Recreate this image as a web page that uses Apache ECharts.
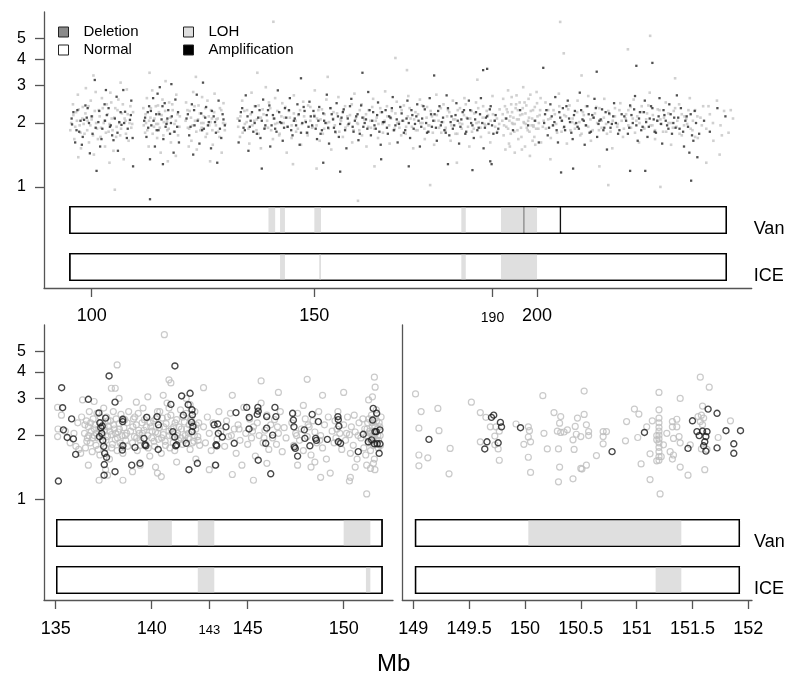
<!DOCTYPE html>
<html><head><meta charset="utf-8">
<script src="https://cdn.jsdelivr.net/npm/echarts@6/dist/echarts.min.js"></script>
<style>html,body{margin:0;padding:0;background:#fff}#c{width:800px;height:679px}</style>
</head><body><div id="c"></div>
<script>
// ---------- tick labels / categories ----------
const yTicks = [1, 2, 3, 4, 5];
const topXTicks = [100, 150, 190, 200];
const midXTicks = [135, 140, 143, 145, 150];
const zoomXTicks = [149, 149.5, 150, 150.5, 151, 151.5, 152];
const trackNames = ['Van', 'ICE'];
const legendNames = ['Deletion', 'Normal', 'LOH', 'Amplification'];

// ---------- copy-number tracks (Mb) ----------
const topSpan = [95.1, 242.5];
const topVanLOH = [[139.7,141.2],[142.3,143.4],[150.0,151.5],[183.0,184.0],[191.9,200.0]];
const topVanDel = [[196.9,197.2]];
const topVanAmp = [[205.1,205.4]];
const topIceLOH = [[142.3,143.4],[151.1,151.5],[183.0,184.0],[191.9,200.0]];
const midSpan = [135.05, 152.0];
const midVanLOH = [[139.8,141.05],[142.4,143.26],[150.0,151.39]];
const midIceLOH = [[142.4,143.26],[151.16,151.39]];
const zoomSpan = [149.02, 151.92];
const zoomVanLOH = [[150.03,151.40]];
const zoomIceLOH = [[151.17,151.40]];

// ---------- top panel: ratio per marker (Mb, ratio) ----------
const topGrey = [
[95.2,1.85],[95.8,2.45],[96.1,1.68],[96.5,2.25],[96.9,2.72],[97.3,1.95],[97.6,1.52],[98.0,2.38],[98.4,1.78],[98.7,2.92],[99.1,2.05],[99.4,1.62],[99.8,2.55],[100.1,2.15],[100.5,1.42],[100.9,2.80],[101.2,1.88],[101.6,2.30],[102.0,1.72],[102.3,2.62],[102.7,2.00],[103.0,1.55],[103.4,2.45],[103.8,1.82],[104.2,2.78],[104.5,2.10],[104.9,1.48],[105.3,2.35],[105.6,1.92],[106.0,2.58],[106.4,1.75],[106.8,2.22],[107.2,1.35],[107.6,2.05],[107.9,2.88],[108.3,1.65],[108.7,2.40],[109.1,1.98],[100.4,3.35],[104.0,1.30],[106.5,3.10],[97.0,1.38],[105.2,0.97],
[95.4,2.0],[95.9,2.18],[96.3,1.92],[96.7,2.05],[97.1,2.32],[97.5,1.8],[97.9,2.1],[98.2,1.98],[98.6,2.22],[99.0,1.85],[99.3,2.4],[99.7,1.95],[100.0,2.08],[100.3,1.75],[100.7,2.28],[101.0,2.0],[101.4,1.68],[101.8,2.15],[102.1,1.9],[102.5,2.35],[102.9,2.05],[103.2,1.8],[103.6,2.2],[104.0,1.98],[104.4,2.5],[104.7,1.85],[105.1,2.12],[105.5,1.72],[105.8,2.3],[106.2,2.0],[106.6,1.88],[107.0,2.45],[107.4,2.1],[107.7,1.78],[108.1,2.2],[108.5,2.0],[108.9,1.9],[109.3,2.25],
[111.6,2.35],[112.0,1.80],[112.4,2.62],[112.8,1.55],[113.2,2.12],[113.6,2.85],[114.0,1.92],[114.4,2.40],[114.7,1.70],[115.1,2.25],[115.5,1.45],[115.9,2.58],[116.2,2.02],[116.6,3.15],[117.0,1.85],[117.4,2.50],[117.8,1.62],[118.2,2.30],[118.6,1.98],[119.0,2.72],[119.4,1.75],[119.8,2.15],[113.0,3.45],[117.1,1.32],[114.9,1.98],[116.9,2.05],[118.9,1.40],[112.2,2.00],
[111.7,1.95],[112.1,2.2],[112.5,1.85],[112.9,2.05],[113.3,2.35],[113.7,1.78],[114.1,2.1],[114.5,1.98],[114.9,2.42],[115.3,1.9],[115.7,2.18],[116.1,1.75],[116.5,2.28],[116.9,2.0],[117.3,1.88],[117.7,2.12],[118.1,2.45],[118.5,1.82],[118.9,2.05],[119.3,2.2],[119.7,1.92],
[121.2,2.50],[121.6,1.90],[122.0,2.28],[122.4,1.65],[122.8,2.80],[123.2,2.05],[123.6,1.50],[124.0,2.42],[124.4,1.85],[124.8,2.65],[125.2,2.15],[125.6,1.72],[126.0,2.55],[126.4,1.95],[126.8,2.30],[127.2,1.58],[127.6,2.75],[128.0,2.08],[128.4,1.82],[128.8,2.35],[129.2,1.45],[129.6,2.48],[130.0,1.98],[123.4,3.30],[126.6,1.32],[124.6,2.00],[127.0,2.10],[121.8,1.55],
[121.1,2.05],[121.5,2.3],[121.9,1.88],[122.3,2.12],[122.7,1.95],[123.1,2.4],[123.5,1.82],[123.9,2.08],[124.3,2.22],[124.7,1.9],[125.1,2.0],[125.5,2.35],[125.9,1.78],[126.3,2.15],[126.7,2.02],[127.1,1.85],[127.5,2.25],[127.9,1.95],[128.3,2.1],[128.7,1.72],[129.1,2.3],[129.5,2.0],[129.9,1.85],
[132.8,2.10],[133.3,1.72],[133.8,2.55],[134.4,1.98],[134.9,2.30],[135.4,1.60],[135.9,2.78],[136.5,2.05],[137.0,1.85],[137.5,2.42],[138.0,1.52],[138.6,2.20],[139.1,2.95],[139.6,1.90],[140.1,2.35],[140.7,1.68],[141.2,2.62],[141.7,2.00],[142.2,1.78],[142.8,2.48],[143.3,2.12],[143.8,1.45],[144.3,2.28],[144.9,1.95],[145.4,2.70],[145.9,1.82],[146.4,2.18],[147.0,1.58],[147.5,2.52],[148.0,2.05],[148.5,1.75],[149.1,2.38],[149.6,1.92],[150.1,2.85],[150.6,2.10],[151.2,1.65],[151.7,2.32],[152.2,1.88],[152.7,2.58],[153.3,2.02],[153.8,1.50],[154.3,2.25],[154.8,1.80],[155.4,2.65],[155.9,2.08],[156.4,1.72],[156.9,2.40],[157.5,1.95],[158.0,2.18],[158.5,1.62],[159.0,2.75],[159.6,2.00],[160.1,1.85],[160.6,2.45],[161.1,2.12],[161.7,1.55],[162.2,2.30],[162.7,1.90],[163.2,2.60],[163.8,2.05],[164.3,1.70],[164.8,2.35],[165.3,1.98],[165.9,2.82],[166.4,2.15],[166.9,1.60],[167.4,2.28],[168.0,1.88],[168.5,2.52],[169.0,2.02],[169.5,1.75],[170.1,2.42],[170.6,1.92],[171.1,2.68],[171.6,2.10],[172.2,1.52],[172.7,2.25],[173.2,1.85],[173.7,2.58],[174.3,2.00],[174.8,1.68],[175.3,2.38],[175.8,1.95],[176.4,2.15],[176.9,1.58],[177.4,2.72],[177.9,2.05],[178.5,1.80],[179.0,2.45],[179.5,1.90],[180.0,2.30],[180.6,1.65],[181.1,2.55],[181.6,2.08],[182.1,1.78],[182.7,2.35],[183.2,1.98],[183.7,2.62],[184.2,2.12],[184.8,1.55],[185.3,2.28],[185.8,1.88],[186.3,2.50],[186.9,2.02],[187.4,1.72],[187.9,2.40],[188.4,1.95],[189.0,2.18],[189.5,1.62],[190.0,2.68],[190.5,2.05],[191.1,1.82],[191.6,2.32],
[132.9,1.92],[133.4,2.15],[133.9,1.8],[134.3,2.28],[134.8,2.02],[135.2,1.88],[135.7,2.2],[136.1,1.95],[136.6,2.4],[137.1,2.08],[137.5,1.78],[138.0,2.12],[138.4,2.32],[138.9,1.9],[139.4,2.05],[139.8,2.5],[140.3,1.85],[140.8,2.1],[141.2,1.98],[141.7,2.28],[142.1,1.75],[142.6,2.15],[143.1,2.0],[143.5,2.38],[144.0,1.92],[144.5,2.12],[144.9,1.7],[145.4,2.22],[145.8,2.05],[146.3,1.88],[146.8,2.3],[147.2,1.98],[147.7,2.15],[148.2,1.8],[148.6,2.42],[149.1,2.05],[149.5,1.9],[150.0,2.18],[150.5,1.95],[150.9,2.3],[151.4,2.08],[151.9,1.78],[152.3,2.2],[152.8,2.0],[153.2,1.88],[153.7,2.35],[154.2,2.1],[154.6,1.95],[155.1,2.22],[155.6,1.82],[156.0,2.05],[156.5,2.28],[157.0,1.9],[157.4,2.15],[157.9,2.0],[158.4,2.45],[158.8,1.85],[159.3,2.1],[159.8,1.98],[160.2,2.3],[160.7,1.75],[161.2,2.08],[161.6,2.2],[162.1,1.92],[162.6,2.05],[163.0,2.38],[163.5,1.88],[164.0,2.12],[164.4,1.98],[164.9,2.25],[165.4,1.8],[165.8,2.05],[166.3,2.4],[166.8,1.95],[167.2,2.1],[167.7,1.85],[168.2,2.22],[168.6,2.0],[169.1,1.9],[169.6,2.3],[170.0,2.05],[170.5,1.78],[171.0,2.15],[171.4,2.35],[171.9,1.92],[172.4,2.08],[172.8,1.85],[173.3,2.2],[173.8,2.0],[174.2,2.42],[174.7,1.88],[175.2,2.12],[175.6,1.95],[176.1,2.28],[176.6,1.8],[177.0,2.05],[177.5,2.18],[178.0,1.9],[178.4,2.35],[178.9,2.02],[179.4,1.85],[179.8,2.15],[180.3,2.25],[180.8,1.95],[181.2,2.08],[181.7,1.78],[182.2,2.3],[182.6,2.0],[183.1,1.88],[183.6,2.18],[184.0,2.45],[184.5,1.92],[185.0,2.1],[185.4,1.82],[185.9,2.22],[186.4,2.0],[186.8,2.35],[187.3,1.9],[187.8,2.12],[188.2,1.98],[188.7,2.28],[189.2,1.8],[189.6,2.05],[190.1,2.2],[190.6,1.92],[191.0,2.1],[191.5,1.98],
[140.8,6.0],[159.8,0.86],[176.0,1.02],[137.2,3.45],[145.2,1.28],[153.0,3.30],[163.5,1.25],[170.8,3.55],[182.0,1.30],[186.6,3.20],[168.2,4.05],[150.5,1.22],
[192.2,2.05],[192.5,1.75],[192.8,2.40],[193.1,1.92],[193.4,2.25],[193.7,1.60],[194.0,2.15],[194.3,2.65],[194.6,1.98],[194.9,1.82],[195.2,2.35],[195.5,2.08],[195.8,1.68],[196.1,2.50],[196.4,1.90],[196.7,2.20],[197.0,2.02],[197.3,1.55],[197.6,2.42],[197.9,1.85],[198.2,2.12],[198.5,2.72],[198.8,1.95],[199.1,2.30],[199.4,1.72],[199.7,2.05],[200.0,2.48],[200.3,1.88],[200.6,2.18],[200.9,1.62],[193.5,2.85],[195.0,1.45],[196.9,2.95],[198.4,1.40],[199.9,2.80],[192.9,1.50],[195.7,2.30],[197.5,1.98],[194.4,2.00],[199.2,1.92],
[192.3,2.2],[192.6,1.95],[192.9,2.1],[193.2,2.32],[193.5,1.88],[193.8,2.05],[194.1,1.78],[194.4,2.25],[194.7,2.12],[195.0,1.98],[195.3,2.45],[195.6,1.85],[195.9,2.08],[196.2,2.18],[196.5,1.72],[196.8,2.35],[197.1,2.0],[197.4,2.22],[197.7,1.9],[198.0,2.05],[198.3,1.82],[198.6,2.28],[198.9,2.1],[199.2,1.95],[199.5,2.38],[199.8,1.88],[200.1,2.15],[200.4,2.0],[200.7,2.3],[192.4,2.6],[193.9,1.55],[195.4,2.7],[196.6,1.5],[198.1,2.6],[199.6,1.58],[200.8,2.62],[194.2,2.45],[197.2,2.5],[199.0,1.65],
[201.3,1.92],[201.9,2.50],[202.5,2.08],[203.1,1.70],[203.7,2.30],[204.3,1.98],[204.9,2.75],[205.5,1.82],[206.1,2.18],[206.7,1.60],[207.3,2.42],[207.9,2.02],[208.5,1.88],[209.1,2.55],[209.7,1.75],[210.3,2.25],[210.9,1.95],[211.5,2.68],[212.1,1.65],[212.7,2.12],[213.3,2.38],[213.9,1.85],[214.5,2.05],[215.1,2.60],[215.7,1.78],[216.3,2.20],[216.9,1.52],[217.5,2.35],[218.1,1.98],[218.7,2.48],[219.3,1.72],[219.9,2.10],[220.5,2.30],[221.1,1.90],[221.7,2.58],[222.3,2.05],[222.9,1.62],[223.5,2.40],[224.1,1.88],[224.7,2.22],[225.3,2.78],[225.9,1.95],[226.5,1.68],[227.1,2.32],[227.7,2.08],[228.3,1.82],[228.9,2.50],[229.5,2.00],[230.1,1.58],[230.7,2.28],[231.3,1.92],[231.9,2.45],[232.5,1.75],[233.1,2.15],[233.7,1.98],[234.3,2.62],[234.9,1.85],[235.5,2.30],[236.1,1.70],[236.7,2.12],[237.3,2.40],[238.0,1.88],[238.8,2.20],[239.6,1.65],[240.4,2.55],[241.2,1.95],[242.0,2.28],[243.0,1.80],[244.0,2.10],
[201.5,2.05],[202.0,1.88],[202.5,2.3],[203.0,2.1],[203.5,1.95],[204.0,2.2],[204.5,1.8],[205.0,2.4],[205.5,2.05],[206.0,1.9],[206.5,2.15],[207.0,2.32],[207.5,1.85],[208.0,2.1],[208.5,1.98],[209.0,2.25],[209.5,2.02],[210.0,1.78],[210.5,2.18],[211.0,2.4],[211.5,1.92],[212.0,2.08],[212.5,1.85],[213.0,2.22],[213.5,2.0],[214.0,2.35],[214.5,1.9],[215.0,2.12],[215.5,1.98],[216.0,2.28],[216.5,1.82],[217.0,2.05],[217.5,2.15],[218.0,1.92],[218.5,2.3],[219.0,2.05],[219.5,1.88],[220.0,2.2],[220.5,1.95],[221.0,2.38],[221.5,2.1],[222.0,1.8],[222.5,2.15],[223.0,2.0],[223.5,2.25],[224.0,1.9],[224.5,2.08],[225.0,2.42],[225.5,1.95],[226.0,2.18],[226.5,1.85],[227.0,2.05],[227.5,2.3],[228.0,1.98],[228.5,2.12],[229.0,1.82],[229.5,2.22],[230.0,2.0],[230.5,1.9],[231.0,2.35],[231.5,2.05],[232.0,1.78],[232.5,2.2],[233.0,1.95],[233.5,2.1],[234.0,2.3],[234.5,1.88],[235.0,2.05],[235.5,1.72],[236.0,2.15],[237.0,1.95],[238.5,2.4],[239.5,2.0],[241.5,1.75],[243.5,2.3],
[205.2,5.99],[225.4,5.15],[206.0,4.26],[220.4,4.45],[216.0,1.02],[227.7,1.00],[210.0,3.35],[231.0,3.25],[214.0,1.25],[238.0,1.30],[241.0,1.42],[203.0,1.35]
];
const topBlack = [
[95.5,2.10],[95.6,1.97],[96.8,2.30],[97.8,1.58],[98.3,2.07],[98.9,2.12],[99.6,1.44],[100.7,3.19],[101.1,1.19],[101.9,1.55],[102.4,1.88],[103.2,2.86],[103.4,2.18],[104.1,1.92],[104.9,1.66],[105.6,2.66],[106.2,2.02],[106.7,1.96],[107.1,2.86],[107.5,2.26],[108.6,2.07],[109.3,1.25],[97.2,1.82],[99.1,2.35],[100.2,1.78],[102.9,2.45],[104.6,1.75],[105.9,1.48],[107.9,1.70],[108.9,2.55],[96.3,1.62],[101.5,2.02],
[95.9,2.25],[96.6,1.85],[97.5,2.05],[98.0,1.72],[98.6,2.42],[99.4,2.0],[100.0,2.15],[100.9,1.9],[101.7,2.28],[102.2,1.68],[103.0,2.05],[103.8,2.35],[104.3,1.95],[105.2,2.1],[105.8,1.8],[106.5,2.25],[107.3,2.0],[108.1,1.88],[108.8,2.18],[109.2,1.7],
[111.8,2.05],[112.3,1.72],[112.9,2.40],[113.4,1.95],[113.8,2.62],[114.2,1.55],[114.5,2.20],[115.0,1.85],[115.3,2.95],[115.7,2.08],[116.1,1.68],[116.4,2.48],[116.8,1.98],[117.2,2.30],[117.6,1.78],[118.0,2.15],[118.4,1.45],[118.8,2.58],[119.2,1.92],[119.6,1.62],[113.1,1.35],[116.0,1.28],[117.9,3.05],[114.8,2.75],[112.6,2.25],[113.1,0.875],
[112.0,2.12],[112.7,1.9],[113.3,2.28],[113.9,2.05],[114.6,1.85],[115.2,2.2],[115.9,2.4],[116.6,1.92],[117.0,2.1],[117.8,2.0],[118.6,1.82],[119.4,2.25],
[121.3,2.10],[121.9,1.75],[122.5,2.45],[123.1,1.95],[123.6,2.72],[124.2,1.60],[124.6,2.22],[125.2,1.88],[125.7,2.38],[126.3,2.02],[126.8,1.52],[127.4,2.15],[127.9,1.80],[128.5,2.55],[129.1,1.70],[129.6,2.08],[122.8,1.42],[128.2,1.30],[125.0,3.10],[129.9,1.95],
[121.6,2.2],[122.2,1.92],[123.0,2.3],[123.8,2.05],[124.8,1.85],[125.5,2.12],[126.1,1.95],[127.0,2.28],[127.7,2.02],[128.8,1.88],[129.4,2.2],
[133.0,1.62],[133.5,2.25],[134.1,1.90],[134.6,2.70],[135.2,1.48],[135.7,2.05],[136.3,1.82],[136.8,2.40],[137.4,2.12],[137.9,1.70],[138.5,2.58],[139.0,1.95],[139.6,2.30],[140.1,1.55],[140.7,2.18],[141.2,1.88],[141.8,2.85],[142.3,2.02],[142.9,1.65],[143.4,2.35],[144.0,1.92],[144.5,2.62],[145.1,1.75],[145.6,2.10],[146.2,2.45],[146.7,1.58],[147.3,2.00],[147.8,2.28],[148.4,1.80],[148.9,2.52],[149.5,1.95],[150.0,2.15],[150.6,1.68],[151.1,2.38],[151.7,1.85],[152.2,2.05],[152.8,2.72],[153.3,1.60],[153.9,2.20],[154.4,1.90],[155.0,2.48],[155.5,1.72],[156.1,2.12],[156.6,2.32],[157.2,1.52],[157.7,1.98],[158.3,2.60],[158.8,1.82],[159.4,2.15],[159.9,1.66],[160.5,2.42],[161.0,1.92],[161.6,2.08],[162.1,2.80],[162.7,1.75],[163.2,2.25],[163.8,1.88],[164.3,2.50],[164.9,1.58],[165.4,2.02],[166.0,2.30],[166.5,1.78],[167.1,2.12],[167.6,2.65],[168.2,1.95],[168.7,1.62],[169.3,2.38],[169.8,2.05],[170.4,1.85],[170.9,2.55],[171.5,1.70],[172.0,2.18],[172.6,1.98],[173.1,2.45],[173.7,1.55],[174.2,2.10],[174.8,2.32],[175.3,1.80],[175.9,2.62],[176.4,1.92],[177.0,2.20],[177.5,1.65],[178.1,2.40],[178.6,2.02],[179.2,1.85],[179.7,2.70],[180.3,1.75],[180.8,2.15],[181.4,1.95],[181.9,2.48],[182.5,1.60],[183.0,2.08],[183.6,2.30],[184.1,1.82],[184.7,2.55],[185.2,2.00],[185.8,1.70],[186.3,2.25],[186.9,1.90],[187.4,2.62],[188.0,1.52],[188.5,2.12],[189.1,1.98],[189.6,2.40],[190.2,1.78],[190.7,2.18],[191.3,1.88],
[133.2,2.05],[133.8,2.35],[134.4,1.85],[135.0,2.15],[135.5,1.92],[136.0,2.25],[136.6,2.0],[137.1,1.78],[137.7,2.3],[138.2,2.05],[138.8,1.88],[139.3,2.18],[139.9,2.42],[140.4,1.95],[141.0,2.1],[141.5,1.82],[142.1,2.25],[142.6,2.0],[143.2,1.9],[143.7,2.12],[144.3,2.3],[144.8,1.85],[145.4,2.05],[145.9,1.95],[146.5,2.2],[147.0,1.8],[147.6,2.38],[148.1,2.02],[148.7,1.92],[149.2,2.15],[149.8,2.28],[150.3,1.88],[150.9,2.05],[151.4,1.78],[152.0,2.22],[152.5,2.0],[153.1,1.9],[153.6,2.35],[154.2,2.08],[154.7,1.82],[155.3,2.15],[155.8,1.98],[156.4,2.25],[156.9,1.85],[157.5,2.1],[158.0,2.4],[158.6,1.92],[159.1,2.05],[159.7,2.2],[160.2,1.78],[160.8,2.12],[161.3,2.0],[161.9,1.88],[162.4,2.3],[163.0,2.05],[163.5,1.95],[164.1,2.18],[164.6,1.82],[165.2,2.25],[165.7,2.02],[166.3,1.9],[166.8,2.15],[167.4,2.35],[167.9,1.85],[168.5,2.08],[169.0,1.98],[169.6,2.22],[170.1,1.8],[170.7,2.1],[171.2,2.0],[171.8,2.3],[172.3,1.88],[172.9,2.15],[173.4,2.05],[174.0,1.92],[174.5,2.4],[175.1,2.0],[175.6,1.82],[176.2,2.2],[176.7,2.05],[177.3,1.9],[177.8,2.28],[178.4,1.95],[178.9,2.12],[179.5,1.8],[180.0,2.35],[180.6,2.02],[181.1,1.88],[181.7,2.18],[182.2,2.05],[182.8,1.92],[183.3,2.25],[183.9,1.78],[184.4,2.1],[185.0,2.3],[185.5,1.95],[186.1,2.08],[186.6,1.85],[187.2,2.2],[187.7,2.0],[188.3,1.9],[188.8,2.15],[189.4,2.32],[189.9,1.95],[190.5,2.05],[191.0,1.8],
[138.2,1.22],[147.0,3.25],[155.8,1.18],[160.8,3.45],[171.2,1.25],[176.9,3.35],[185.5,1.20],[188.8,3.60],[152.0,1.30],[165.0,1.35],[180.0,1.28],[189.5,1.32],
[193.1,2.10],[194.6,1.85],[196.2,2.30],[198.0,1.95],[199.5,2.05],[200.4,1.62],
[201.8,2.20],[202.4,1.75],[203.0,2.45],[203.6,1.95],[204.1,2.65],[204.7,1.62],[205.2,2.12],[205.8,2.35],[206.3,1.85],[206.9,2.55],[207.4,2.02],[208.0,1.68],[208.5,2.28],[209.1,1.92],[209.6,2.78],[210.2,2.08],[210.7,1.58],[211.3,2.40],[211.8,1.80],[212.4,2.18],[212.9,2.60],[213.5,1.72],[214.0,2.05],[214.6,2.32],[215.1,1.90],[215.7,1.50],[216.2,2.22],[216.8,1.98],[217.3,2.48],[218.5,1.85],[219.6,2.15],[220.4,1.78],[220.9,2.42],[221.5,2.00],[222.0,2.68],[222.6,1.65],[223.1,2.25],[223.7,1.92],[224.2,2.55],[224.8,1.72],[225.3,2.10],[225.9,2.35],[226.4,1.82],[227.0,2.05],[227.5,2.62],[228.1,1.60],[228.6,2.18],[229.2,1.95],[229.7,2.45],[230.3,1.78],[230.8,2.12],[231.4,2.70],[232.0,1.88],[233.0,1.55],[233.6,2.15],[234.2,1.45],[234.8,1.75],[235.4,2.28],[236.0,1.38],[237.5,2.05],[238.8,1.82],[240.5,2.35],[242.3,2.15],
[201.6,2.0],[202.1,2.3],[202.7,1.9],[203.3,2.15],[203.9,2.02],[204.4,1.85],[205.0,2.25],[205.6,2.05],[206.1,1.92],[206.6,2.4],[207.2,2.1],[207.7,1.8],[208.3,2.18],[208.8,2.0],[209.4,1.88],[209.9,2.3],[210.5,2.05],[211.0,1.95],[211.6,2.2],[212.1,1.82],[212.7,2.12],[213.2,2.35],[213.8,1.98],[214.3,2.08],[214.9,1.85],[215.4,2.25],[216.0,2.02],[216.5,1.9],[217.1,2.15],[217.7,2.0],[218.2,1.78],[219.0,2.2],[220.0,2.05],[220.7,1.9],[221.2,2.18],[221.8,2.32],[222.3,1.95],[222.9,2.1],[223.4,1.85],[224.0,2.25],[224.5,2.02],[225.1,1.92],[225.6,2.4],[226.2,2.08],[226.7,1.8],[227.3,2.15],[227.8,1.98],[228.4,2.3],[228.9,2.05],[229.5,1.88],[230.0,2.2],[230.6,2.0],[231.1,1.9],[231.7,2.12],[232.3,2.35],[232.8,1.82],[233.3,2.05],[233.9,1.92],[234.5,2.2],[235.1,1.65],[235.7,2.0],[236.4,1.78],
[222.3,3.72],[225.9,3.84],[201.4,3.64],[213.4,3.49],[187.9,3.55],[205.4,1.17],[234.6,1.07],[224.3,1.19],[220.9,1.19],[208.1,1.22],[189.8,1.28]
];

// ---------- middle panel (135-152 Mb) ----------
const midGrey = [
[135.1,2.72],[135.12,2.15],[135.1,1.98],[135.3,2.5],[135.5,2.1],[135.75,1.85],[135.95,2.05],[136.05,1.78],[136.15,2.3],[136.3,1.65],[136.35,2.45],[136.2,1.72],
[136.5,2.05],[136.55,1.75],[136.6,2.35],[136.65,1.95],[136.7,2.2],[136.75,2.6],[136.8,1.85],[136.85,2.1],[136.9,1.68],[136.95,2.4],[137.0,2.0],[137.05,2.25],[137.1,1.8],[137.15,2.55],[137.2,1.95],[137.25,2.15],[137.3,1.62],[137.35,2.3],[137.4,2.05],[137.45,1.88],[137.5,2.7],[137.55,2.12],[137.6,1.75],[137.65,2.45],[137.7,1.98],[137.75,2.2],[137.8,1.55],[137.85,2.35],[137.9,2.02],[137.95,1.82],[138.0,2.6],[138.05,2.15],[138.1,1.92],[138.15,2.4],[138.2,1.7],[138.25,2.08],[138.3,2.28],[138.35,1.85],[138.4,2.52],[138.45,2.0],[138.5,1.65],[138.55,2.18],[138.6,2.38],[138.65,1.9],[138.7,2.05],[138.75,1.78],[136.7,1.45],[137.0,2.9],[137.6,1.38],[138.3,3.0],[136.4,2.95],[138.8,2.6],
[136.52,2.25],[136.62,1.88],[136.72,2.0],[136.82,2.3],[136.92,1.95],[137.02,2.15],[137.12,2.05],[137.22,1.72],[137.32,2.45],[137.42,2.0],[137.52,2.2],[137.62,1.9],[137.72,2.35],[137.82,2.1],[137.92,1.75],[138.02,2.25],[138.12,2.05],[138.22,1.95],[138.32,2.15],[138.42,1.8],[138.52,2.4],[138.62,2.0],[138.72,2.3],
[138.2,4.32],[138.1,3.35],[137.9,3.35],[137.26,1.23],[138.5,1.23],[137.7,1.3],
[138.9,2.1],[139.0,1.85],[139.05,2.4],[139.1,1.98],[139.2,2.25],[139.25,1.7],[139.3,2.55],[139.35,2.05],[139.4,1.9],[139.5,2.3],[139.55,2.7],[139.6,2.12],[139.7,1.82],[139.75,2.45],[139.8,2.0],[139.9,1.6],[139.95,2.2],[140.0,1.95],[140.1,2.35],[140.15,1.78],[140.2,2.08],[140.3,2.6],[140.35,1.92],[140.4,2.18],[140.5,1.65],[140.55,2.42],[140.6,2.02],[140.7,1.88],[140.75,2.28],[140.8,2.85],[140.9,2.1],[140.95,1.75],[141.0,2.5],[141.1,1.98],[141.15,2.2],[141.2,1.7],[141.3,2.38],[141.35,2.05],[141.4,1.9],[141.5,2.65],[141.55,2.15],[141.6,1.82],[141.7,2.32],[141.75,2.0],[141.8,2.55],[141.9,1.95],[141.95,2.25],[142.0,1.72],[142.05,2.4],[142.1,2.08],[142.2,1.88],[142.25,2.6],[142.3,2.15],[142.4,1.98],[142.45,2.3],[142.5,1.8],[139.4,1.45],[139.8,3.05],[140.2,1.42],[140.6,3.1],[141.3,1.5],[141.8,3.0],[142.3,1.55],[139.2,2.88],[140.9,2.7],[142.0,2.8],
[139.02,2.2],[139.12,2.45],[139.22,1.95],[139.32,2.12],[139.42,1.8],[139.52,2.05],[139.62,2.38],[139.72,2.2],[139.82,1.75],[139.92,2.3],[140.02,2.1],[140.12,1.88],[140.22,2.4],[140.32,2.05],[140.42,2.6],[140.52,1.95],[140.62,2.2],[140.72,1.8],[140.82,2.45],[140.92,2.0],[141.02,2.15],[141.12,1.85],[141.22,2.3],[141.32,2.0],[141.42,2.2],[141.52,1.95],[141.62,2.45],[141.72,1.9],[141.82,2.15],[141.92,2.05],[142.02,2.35],[142.12,1.85],[142.22,2.0],[142.32,2.25],[142.42,1.9],
[140.66,6.0],[140.9,3.67],[141.0,3.55],[140.3,1.33],[140.5,1.28],[142.7,3.37],[139.0,1.35],
[142.7,2.2],[142.8,1.85],[142.9,2.45],[143.0,2.05],[143.1,1.7],[143.2,2.3],[143.4,1.92],[143.5,2.6],[143.6,2.1],[143.8,1.78],[143.9,2.35],[144.0,1.98],[144.1,2.55],[144.3,2.15],[144.4,1.65],[144.5,2.25],[144.6,1.9],[144.8,2.72],[144.9,2.05],[145.0,1.82],[145.1,2.4],[145.2,1.95],[145.3,2.2],[145.4,1.6],[145.5,2.3],[145.6,2.0],[145.7,2.85],[145.8,1.85],[145.9,2.12],[146.0,2.5],[146.1,1.72],[146.2,2.25],[146.3,1.95],[146.4,2.38],[146.5,1.82],[146.6,2.05],[146.7,2.6],[146.8,1.68],[146.9,2.18],[147.0,1.95],[143.3,1.45],[144.7,1.45],[146.0,1.48],[144.2,3.1],[145.7,3.63],[146.6,3.2],[145.3,1.23],[144.2,1.31],[143.0,1.38],
[144.15,2.0],[144.55,2.15],[145.25,2.1],[145.85,1.95],[146.55,2.2],
[147.3,2.3],[147.4,1.8],[147.5,2.05],[147.6,2.55],[147.7,1.9],[147.8,2.15],[147.9,1.7],[148.0,2.4],[148.1,1.98],[148.2,2.2],[148.3,1.62],[148.4,2.35],[148.5,2.08],[148.6,1.85],[148.7,2.6],[148.8,2.0],[148.9,1.75],[149.0,2.25],[149.1,1.55],[149.2,2.45],[147.6,1.45],[148.5,1.5],[148.9,3.1],[147.9,2.78],[148.1,3.69],[148.8,1.27],[149.3,1.33],[148.3,1.42],
[147.55,2.0],[148.15,2.25],[148.75,1.9],
[149.4,2.1],[149.5,1.85],[149.55,2.35],[149.6,1.95],[149.7,2.6],[149.8,2.05],[149.9,1.72],[150.0,2.25],[150.1,1.9],[150.2,2.45],[150.3,2.02],[150.35,1.65],[150.4,2.2],[150.5,1.8],[150.55,2.5],[150.6,2.08],[150.7,1.55],[150.8,2.3],[150.9,1.95],[151.0,2.4],[151.05,1.75],[151.1,2.15],[151.15,1.62],[151.2,2.0],[151.25,2.3],[151.3,1.85],[151.35,2.1],[151.4,1.7],[151.45,2.5],[151.5,1.95],[151.5,2.2],[151.55,1.8],[151.6,2.4],[151.6,1.55],[151.65,2.05],[151.7,2.65],[151.7,1.9],[151.75,2.15],[151.8,1.75],[151.85,2.3],[151.9,2.0],[151.95,2.45],[151.2,1.45],[151.4,1.4],[151.55,1.48],[150.0,3.2],[151.3,2.95],[150.6,1.42],
[149.65,2.15],[150.15,2.05],[150.75,2.0],[151.22,2.15],[151.28,1.95],[151.32,2.4],[151.38,2.05],[151.42,1.88],[151.48,2.3],[151.52,2.1],[151.58,1.98],[151.62,2.2],[151.68,1.85],[151.72,2.35],[151.78,2.0],[151.82,1.9],[151.88,2.2],[151.92,1.8],
[151.6,3.78],[151.64,3.39],[151.2,1.06],[150.3,1.22],[150.35,1.27],[151.63,1.38],[151.5,3.05]
];
const midBlack = [
[135.31,3.37],[135.36,2.71],[135.83,2.40],[135.40,2.13],[135.6,1.96],[135.92,1.93],[136.04,1.63],[135.14,1.22],[136.70,2.97],[137.78,3.83],[138.09,2.88],
[137.25,2.56],[137.3,2.3],[137.35,2.18],[137.4,2.05],[137.45,1.9],[137.5,1.78],[137.55,1.65],[137.6,2.42],[137.65,1.58],[137.42,2.22],[137.28,1.98],
[137.53,1.46],[137.52,1.30],[138.09,1.35],[138.49,2.39],[138.49,2.33],[138.5,1.79],[138.47,1.71],[139.13,1.76],[139.39,1.48],[138.96,1.45],[139.6,1.94],[139.65,1.81],[139.7,1.79],[139.74,2.44],[140.34,1.72],[140.28,2.46],[140.35,2.25],[141.0,2.81],[141.56,3.08],[141.21,4.27],[142.0,3.17],[141.1,2.09],[141.2,1.97],[141.25,1.79],[141.3,1.81],[141.94,1.38],[142.38,1.48],[141.65,2.5],[141.8,1.84],[141.9,2.8],[142.1,2.65],[142.12,2.51],[142.08,2.31],[142.15,2.21],[142.1,2.09],[143.35,1.81],[143.33,1.45],[143.25,2.25],
[143.44,2.27],[143.47,2.05],[143.39,1.79],[143.87,2.2],[143.68,1.97],[144.3,1.84],[144.39,2.57],[144.95,2.72],[145.08,2.44],[145.07,2.15],[145.53,2.72],[145.55,2.61],[145.5,2.52],[145.55,1.53],[145.99,2.46],[145.99,2.17],[145.94,1.84],[146.2,1.32],[146.3,2.01],[146.42,2.72],[146.47,2.46],[147.34,2.55],[147.38,2.37],[147.41,2.2],[147.43,1.77],[147.48,1.74],[147.6,1.6],[147.95,2.13],[147.98,1.94],[148.24,1.79],[148.36,2.52],[148.54,1.94],[148.58,1.9],[148.68,2.33],[149.15,1.92],[149.7,2.46],[149.72,2.38],[149.75,2.22],[149.72,1.87],[149.84,1.84],[150.76,1.68],[151.02,2.03],[151.54,2.69],[151.72,2.55],[151.51,2.37],[151.63,2.09],[151.7,2.09],[151.89,2.13],[151.46,1.91],[151.6,1.83],[151.75,1.83],[151.89,1.83],[151.85,1.65],[151.28,1.87]
];

// ---------- right panel (149-152 Mb) ----------
const zoomGrey = [
[149.02,3.15],[149.07,2.6],[149.22,2.69],[149.05,2.17],[149.23,2.11],[149.33,1.74],[149.05,1.62],[149.13,1.57],[149.05,1.44],[149.32,1.32],
[149.52,2.88],[149.60,2.57],[149.65,2.44],[149.69,2.2],[149.74,2.2],[149.77,2.1],[149.73,1.99],[149.60,1.87],[149.73,1.81],[149.76,1.73],[149.77,1.53],
[149.92,2.27],[150.03,2.2],[150.04,2.11],[150.03,1.97],[150.05,1.87],[149.99,1.82],[150.03,1.58],[150.05,1.34],
[150.16,3.09],[150.17,2.05],[150.20,1.73],[150.26,2.57],[150.32,2.46],[150.31,2.29],[150.29,2.1],[150.32,2.07],[150.35,2.08],[150.38,2.13],[150.30,1.73],[150.31,1.42],[150.30,1.21],
[150.44,1.72],[150.43,1.25],[150.47,2.42],[150.45,2.21],[150.46,2.03],[150.43,1.91],[150.50,1.98],[150.50,1.4],[150.53,2.52],[150.53,3.25],
[150.55,2.25],[150.57,2.09],[150.57,2.0],[150.70,2.09],[150.73,2.09],[150.70,1.98],[150.70,1.83],[150.64,1.61],[150.55,1.45],[150.51,1.39],
[150.90,1.89],[150.98,2.67],[151.02,2.53],[150.91,2.33],[151.01,1.96],[151.09,2.2],[151.14,2.35],[151.20,3.2],[151.20,2.65],
[151.20,2.42],[151.20,2.30],[151.20,2.19],[151.20,2.1],[151.20,2.01],[151.20,1.93],[151.20,1.85],[151.20,1.76],[151.20,1.68],[151.20,1.59],[151.20,1.53],
[151.18,2.0],[151.18,1.91],[151.24,1.81],[151.22,1.59],[151.18,1.52],[151.21,1.06],[151.12,1.24],[151.04,1.47],[151.12,1.64],[151.27,2.05],
[151.32,2.33],[151.36,2.39],[151.32,2.2],[151.36,2.2],[151.38,1.98],[151.33,1.94],[151.39,1.85],[151.30,1.68],[151.33,1.62],[151.32,1.55],[151.39,3.0],[151.39,1.42],[151.46,1.3],[151.48,1.81],
[151.55,2.46],[151.58,2.5],[151.60,2.42],[151.57,2.33],[151.59,2.25],[151.57,3.78],[151.65,3.39],[151.59,2.76],[151.58,1.73],[151.63,1.72],[151.61,1.38],[151.73,1.96],[151.84,2.35]
];
const zoomBlack = [
[149.14,1.92],[149.70,2.44],[149.72,2.5],[149.78,2.31],[149.79,2.2],[149.66,1.87],[149.76,1.85],[149.64,1.73],[149.96,2.18],
[150.78,1.68],[151.07,2.07],[151.46,1.74],[151.50,2.35],[151.64,2.67],[151.72,2.55],[151.54,2.09],[151.56,2.0],[151.59,2.1],[151.63,2.09],[151.62,1.98],[151.61,1.87],[151.60,1.79],[151.62,1.69],[151.72,1.75],[151.80,2.11],[151.87,1.83],[151.87,1.65],[151.93,2.11]
];

// ---------- chart ----------
const FONT = '"Liberation Sans", Arial, Helvetica, sans-serif';
const AX = '#555';
const yMin = Math.log10(0.334), yMax = Math.log10(6.67);
const toLog = pts => pts.map(p => [p[0], Math.log10(p[1])]);
const rows = (segs, r) => segs.map(s => [s[0], s[1], r]);

const grids = [
  {left: 44, top: 12, width: 707.7, height: 276},     // 0 top scatter
  {left: 44, top: 196.5, width: 707.7, height: 94},   // 1 top tracks
  {left: 44, top: 325, width: 349, height: 275},      // 2 mid scatter
  {left: 44, top: 509.5, width: 349, height: 94},     // 3 mid tracks
  {left: 402.3, top: 325, width: 349.7, height: 275}, // 4 right scatter
  {left: 402.3, top: 509.5, width: 349.7, height: 94} // 5 right tracks
];
const xRanges = [[89.3, 248.2], [134.39, 152.57], [148.9015, 152.033]];

function xScatter(gi, r, ticks, smallVals, smallSize, margin) {
  return {type: 'value', gridIndex: gi, min: r[0], max: r[1],
    axisLine: {show: true, onZero: false, lineStyle: {color: AX, width: 1.3}},
    axisTick: {show: true, length: 9, customValues: ticks, lineStyle: {color: AX, width: 1.3}},
    axisLabel: {show: true, customValues: ticks, margin: margin, fontSize: 18, color: '#000', fontFamily: FONT,
      formatter: v => smallVals.indexOf(v) >= 0 ? '{s|' + v + '}' : String(v),
      rich: {s: {fontSize: smallSize, fontFamily: FONT, color: '#000', padding: [4, 0, 0, 0]}}},
    splitLine: {show: false}};
}
function yScatter(gi, labels) {
  const tv = yTicks.map(v => Math.log10(v));
  return {type: 'value', gridIndex: gi, min: yMin, max: yMax,
    axisLine: {show: true, onZero: false, lineStyle: {color: AX, width: 1.3}},
    axisTick: {show: labels, length: 9, customValues: tv, lineStyle: {color: AX, width: 1.3}},
    axisLabel: {show: labels, customValues: tv, margin: 18, fontSize: 16, color: '#000', fontFamily: FONT,
      formatter: v => String(Math.round(Math.pow(10, v)))},
    splitLine: {show: false}};
}
function xTrack(gi, r) { return {type: 'value', gridIndex: gi, min: r[0], max: r[1], show: false}; }
function yTrack(gi, labels) {
  return {type: 'category', gridIndex: gi, data: trackNames, inverse: true, position: 'right',
    axisLine: {show: false}, axisTick: {show: false}, splitLine: {show: false},
    axisLabel: {show: labels, margin: 2, fontSize: 18, color: '#000', fontFamily: FONT, verticalAlign: 'top'}};
}

function rectRender(mode) {
  return function (params, api) {
    const row = api.value(2);
    const a = api.coord([api.value(0), row]);
    const b = api.coord([api.value(1), row]);
    const h = api.size([0, 1])[1] * 0.566;
    const shape = {x: a[0], y: a[1] - h / 2, width: Math.max(b[0] - a[0], 1.3), height: h};
    if (mode === 'outline') return {type: 'rect', shape, style: {fill: null, stroke: '#000', lineWidth: 1.3}};
    if (mode === 'normal') return {type: 'rect', shape, style: {fill: '#fff', stroke: '#000', lineWidth: 1.3}};
    return {type: 'rect', shape, style: {fill: api.visual('color')}};
  };
}
const segColors = {Deletion: '#8a8a8a', LOH: '#dfdfdf', Amplification: '#111'};
function trackSeries(gi, span, parts) {
  const out = [];
  const full = [[span[0], span[1], 0], [span[0], span[1], 1]];
  out.push({type: 'custom', name: 'Normal', xAxisIndex: gi, yAxisIndex: gi, renderItem: rectRender('normal'),
    data: full, encode: {x: [0, 1], y: 2}, itemStyle: {color: '#fff'}, z: 1, silent: true});
  Object.keys(parts).forEach(k => {
    out.push({type: 'custom', name: k, xAxisIndex: gi, yAxisIndex: gi, renderItem: rectRender('seg'),
      data: parts[k], encode: {x: [0, 1], y: 2}, itemStyle: {color: segColors[k]}, z: 2, silent: true});
  });
  out.push({type: 'custom', name: 'outline', xAxisIndex: gi, yAxisIndex: gi, renderItem: rectRender('outline'),
    data: full, encode: {x: [0, 1], y: 2}, z: 3, silent: true});
  return out;
}
function dots(gi, pts, color, size) {
  return {type: 'scatter', xAxisIndex: gi, yAxisIndex: gi, data: toLog(pts), symbol: 'rect', symbolSize: size,
    itemStyle: {color}, silent: true, z: 2};
}
function rings(gi, pts, color, bw) {
  return {type: 'scatter', xAxisIndex: gi, yAxisIndex: gi, data: toLog(pts), symbol: 'circle', symbolSize: 6,
    itemStyle: {color: 'rgba(0,0,0,0)', borderColor: color, borderWidth: bw}, silent: true, z: 2};
}

const legendIcon = 'path://M0,0H10V10H0Z';
const legendBase = {orient: 'vertical', itemWidth: 30, itemHeight: 10, itemGap: 3, icon: legendIcon, selectedMode: false,
  textStyle: {fontSize: 15, lineHeight: 15, color: '#000', fontFamily: FONT},
  itemStyle: {borderColor: '#222', borderWidth: 1}};

const option = {
  animation: false,
  backgroundColor: '#fff',
  title: {text: 'Mb', left: 372, top: 647, textStyle: {fontSize: 24, fontWeight: 'normal', color: '#000', fontFamily: FONT}},
  legend: [
    Object.assign({}, legendBase, {left: 53, top: 19.5, data: [
      {name: legendNames[0], itemStyle: {color: segColors.Deletion}},
      {name: legendNames[1], itemStyle: {color: '#fff'}}]}),
    Object.assign({}, legendBase, {left: 178, top: 19.5, data: [
      {name: legendNames[2], itemStyle: {color: segColors.LOH}},
      {name: legendNames[3], itemStyle: {color: '#000'}}]})
  ],
  grid: grids,
  xAxis: [
    xScatter(0, xRanges[0], topXTicks, [190], 14, 19), xTrack(1, xRanges[0]),
    xScatter(2, xRanges[1], midXTicks, [143], 13, 20), xTrack(3, xRanges[1]),
    xScatter(4, xRanges[2], zoomXTicks, [], 18, 20), xTrack(5, xRanges[2])
  ],
  yAxis: [
    yScatter(0, true), yTrack(1, true),
    yScatter(2, true), yTrack(3, false),
    yScatter(4, false), yTrack(5, true)
  ],
  series: [
    dots(0, topGrey, '#c4c4c4', 2.6), dots(0, topBlack, '#262626', 2.3),
    ...trackSeries(1, topSpan, {LOH: [...rows(topVanLOH, 0), ...rows(topIceLOH, 1)], Deletion: rows(topVanDel, 0), Amplification: rows(topVanAmp, 0)}),
    rings(2, midGrey, '#bdbdbd', 1.2), rings(2, midBlack, '#1a1a1a', 1.4),
    ...trackSeries(3, midSpan, {LOH: [...rows(midVanLOH, 0), ...rows(midIceLOH, 1)]}),
    rings(4, zoomGrey, '#bdbdbd', 1.2), rings(4, zoomBlack, '#1a1a1a', 1.4),
    ...trackSeries(5, zoomSpan, {LOH: [...rows(zoomVanLOH, 0), ...rows(zoomIceLOH, 1)]})
  ]
};
const chart = echarts.init(document.getElementById('c'), null, {renderer: 'canvas'});
chart.setOption(option);
</script>
</body></html>
